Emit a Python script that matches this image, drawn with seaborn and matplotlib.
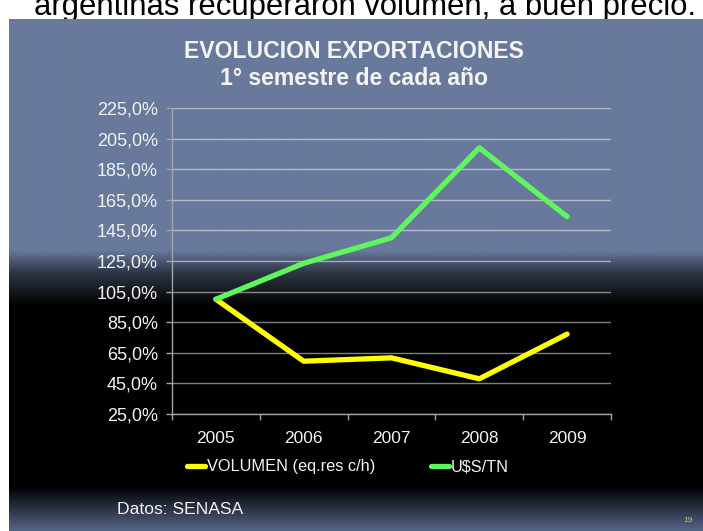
import matplotlib
matplotlib.use("Agg")
import matplotlib.pyplot as plt
import numpy as np
import pandas as pd
import seaborn as sns

years = ["2005", "2006", "2007", "2008", "2009"]
volumen = [100.0, 59.5, 61.7, 48.0, 77.2]
usd_tn = [100.0, 123.5, 140.2, 199.0, 154.0]
yticks = [25, 45, 65, 85, 105, 125, 145, 165, 185, 205, 225]

df = pd.DataFrame({
    "year": years * 2,
    "value": volumen + usd_tn,
    "serie": ["VOLUMEN (eq.res c/h)"] * 5 + ["U$S/TN"] * 5,
})

sns.set_theme(style="white")
plt.rcParams["font.family"] = ["Liberation Sans", "DejaVu Sans"]

W, H = 703, 531
SLIDE_TOP = 19
fig = plt.figure(figsize=(W / 100, H / 100), dpi=100)
fig.patch.set_facecolor("white")

# slide background (blue -> black -> blue)
top_c = np.array([104, 121, 156]) / 255
bot_c = np.array([86, 103, 138]) / 255
rows = np.arange(SLIDE_TOP, H)
stops = [SLIDE_TOP, 250, 272, 305, 486, 531]
mix = [1.0, 1.0, 0.45, 0.0, 0.0, 1.0]
t = np.interp(rows, stops, mix)
col = np.where(rows[:, None] < 400, t[:, None] * top_c, t[:, None] * bot_c)
img = np.repeat(col[:, None, :], 2, axis=1)
bg = fig.add_axes([9 / W, 0, 1 - 9 / W, (H - SLIDE_TOP) / H], zorder=0)
bg.imshow(img, aspect="auto", interpolation="bilinear")
bg.axis("off")

# heading of the slide, cut off by the top edge as in the screenshot
fig.text(365 / W, 1 - 15 / H, "argentinas recuperaron volumen, a buen precio.",
         ha="center", va="baseline", fontsize=22.3, color="black", zorder=-1)

ax = fig.add_axes([172 / W, 1 - 414 / H, (611 - 172) / W, (414 - 108) / H], zorder=1)
ax.set_facecolor("none")
sns.lineplot(data=df, x="year", y="value", hue="serie",
             palette=["#ffff00", "#5ef55e"], linewidth=3.8, ax=ax,
             solid_capstyle="round", solid_joinstyle="round")

ax.set_xlim(-0.5, 4.5)
ax.set_ylim(25, 225)
ax.set_yticks(yticks)
ax.set_yticklabels([f"{v},0%" for v in yticks])
ax.set_xticks([i - 0.5 for i in range(6)])
ax.set_xticklabels([])
ax.set_xticks(range(5), minor=True)
ax.set_xticklabels(years, minor=True)
ax.grid(axis="y", color="white", alpha=0.5, linewidth=1)
ax.set_axisbelow(True)
for s in ["top", "right"]:
    ax.spines[s].set_visible(False)
for s in ["left", "bottom"]:
    ax.spines[s].set_color("#a0a4ac")
    ax.spines[s].set_linewidth(1)
ax.tick_params(axis="both", which="major", direction="out", length=4, width=1,
               color="#a0a4ac", labelcolor="#f2f2f2", labelsize=13, pad=6, left=True, bottom=True)
ax.tick_params(axis="x", which="minor", length=0, labelcolor="#f2f2f2", labelsize=12.5, pad=12)
ax.set_xlabel("")
ax.set_ylabel("")

handles, labels = ax.get_legend_handles_labels()
leg = ax.legend(handles, labels, loc="center", bbox_to_anchor=(0.4, -0.173), ncol=2,
                frameon=False, fontsize=11.8, handlelength=1.1, handletextpad=0.1,
                columnspacing=3.4, labelcolor="#f2f2f2")

fig.text(354 / W, 1 - 58 / H, "EVOLUCION EXPORTACIONES", ha="center", va="baseline",
         fontsize=16.6, fontweight="bold", color="#f4f4f4")
fig.text(354 / W, 1 - 85 / H, "1° semestre de cada año", ha="center", va="baseline",
         fontsize=16.6, fontweight="bold", color="#f4f4f4")
fig.text(117 / W, 1 - 510 / H, "Datos: SENASA", ha="left", va="center",
         fontsize=12.6, color="#f2f2f2")
fig.text(688 / W, 1 - 521 / H, "19", ha="center", va="center",
         fontsize=6, color="#d9b45a")

fig.savefig("out.png", dpi=100)
